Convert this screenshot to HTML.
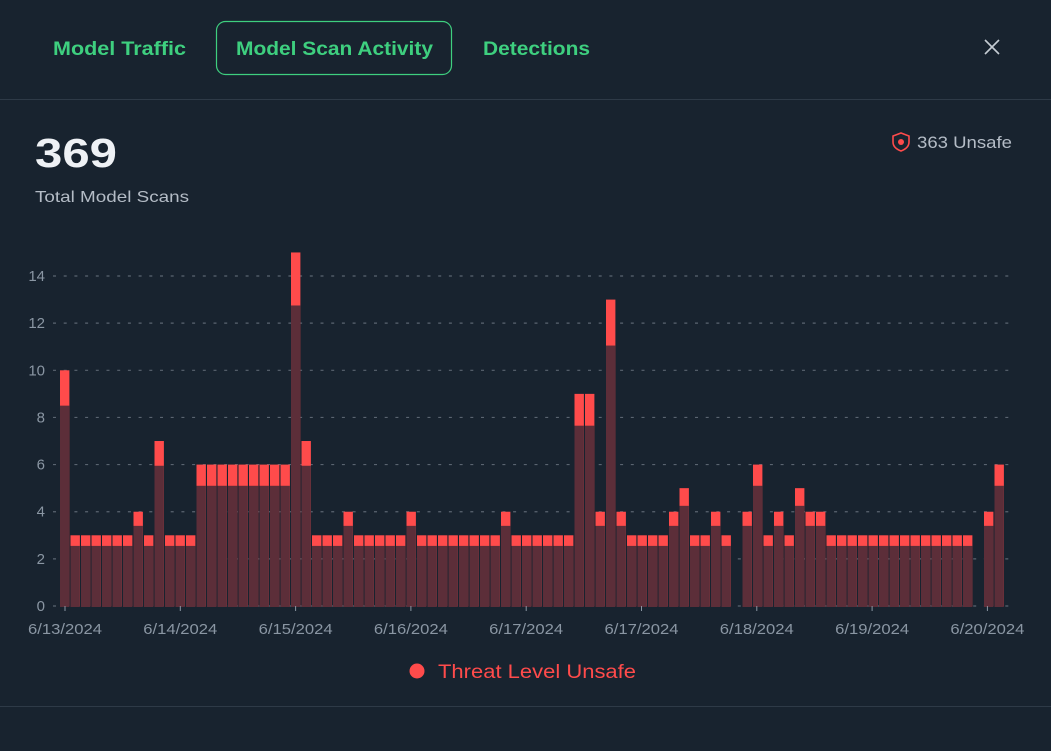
<!DOCTYPE html>
<html><head><meta charset="utf-8"><style>
html,body{margin:0;padding:0;background:#18232f;width:1051px;height:751px;overflow:hidden}
svg{display:block}
text{font-family:"Liberation Sans",sans-serif}
</style></head><body>
<svg id="s" width="1051" height="751" viewBox="0 0 1051 751" xmlns="http://www.w3.org/2000/svg">
<rect width="1051" height="751" fill="#18232f"/>
<rect x="216.5" y="21.5" width="235" height="53" rx="9" fill="none" stroke="#3ecf7f" stroke-width="1.2"/>
<text x="53" y="55" font-size="19" font-weight="bold" fill="#3ecf7f" textLength="133" lengthAdjust="spacingAndGlyphs">Model Traffic</text>
<text x="236" y="55" font-size="19" font-weight="bold" fill="#3ecf7f" textLength="197" lengthAdjust="spacingAndGlyphs">Model Scan Activity</text>
<text x="483" y="55" font-size="19" font-weight="bold" fill="#3ecf7f" textLength="107" lengthAdjust="spacingAndGlyphs">Detections</text>
<path d="M985 40 L999 54 M999 40 L985 54" stroke="#c5ccd4" stroke-width="1.6"/>
<line x1="0" y1="99.5" x2="1051" y2="99.5" stroke="#2e3a47" stroke-width="1"/>
<text x="35" y="167" font-size="41" font-weight="bold" fill="#eef1f5" textLength="82" lengthAdjust="spacingAndGlyphs">369</text>
<text x="35" y="202" font-size="16" fill="#b4bcc6" textLength="154" lengthAdjust="spacingAndGlyphs">Total Model Scans</text>
<path d="M901 133 L909 136 L909 142 Q909 148 901 151 Q893 148 893 142 L893 136 Z" fill="none" stroke="#ff4b4b" stroke-width="1.6"/>
<circle cx="901" cy="142" r="3" fill="#ff4b4b"/>
<text x="917" y="148" font-size="17" fill="#b4bcc6" textLength="95" lengthAdjust="spacingAndGlyphs">363 Unsafe</text>
<g id="grid"></g>
<g id="bars"></g>
<g id="xax"></g>
<circle cx="417" cy="671" r="7.5" fill="#ff4b4b"/>
<text x="438" y="678" font-size="19" fill="#ff4b4b" textLength="198" lengthAdjust="spacingAndGlyphs">Threat Level Unsafe</text>
<line x1="0" y1="706.5" x2="1051" y2="706.5" stroke="#2e3a47" stroke-width="1"/>
</svg>
<script>
var NS="http://www.w3.org/2000/svg";
function el(p,t,a,txt){var e=document.createElementNS(NS,t);for(var k in a)e.setAttribute(k,a[k]);if(txt)e.textContent=txt;document.getElementById(p).appendChild(e);}
var y0=606,u=23.57;
for(var v=0;v<=14;v+=2){var y=y0-v*u;
el("grid","line",{x1:53,y1:y,x2:1013,y2:y,stroke:"#5a6470","stroke-width":1.2,"stroke-dasharray":"3 7.7"});
el("grid","text",{x:45,y:y+5,"font-size":15,fill:"#8a96a3","text-anchor":"end"},String(v));}
var d=[10,3,3,3,3,3,3,4,3,7,3,3,3,6,6,6,6,6,6,6,6,6,15,7,3,3,3,4,3,3,3,3,3,4,3,3,3,3,3,3,3,3,4,3,3,3,3,3,3,9,9,4,13,4,3,3,3,3,4,5,3,3,4,3,0,4,6,3,4,3,5,4,4,3,3,3,3,3,3,3,3,3,3,3,3,3,3,0,4,6];
for(var i=0;i<d.length;i++){if(!d[i])continue;var x=60+i*10.5,h=d[i]*u,hd=d[i]*0.85*u;
el("bars","rect",{x:x,y:y0-h,width:9.4,height:h,fill:"#ff4b4b"});
el("bars","rect",{x:x,y:y0-hd,width:9.4,height:hd+1,fill:"#5c2e39"});}
var L=["6/13/2024","6/14/2024","6/15/2024","6/16/2024","6/17/2024","6/17/2024","6/18/2024","6/19/2024","6/20/2024"];
for(var k=0;k<9;k++){var tx=65+k*115.3;
el("xax","line",{x1:tx,y1:606,x2:tx,y2:611,stroke:"#8a96a3","stroke-width":1});
el("xax","text",{x:tx,y:634,"font-size":15,fill:"#8a96a3","text-anchor":"middle",textLength:74,lengthAdjust:"spacingAndGlyphs"},L[k]);}
</script>
</body></html>
